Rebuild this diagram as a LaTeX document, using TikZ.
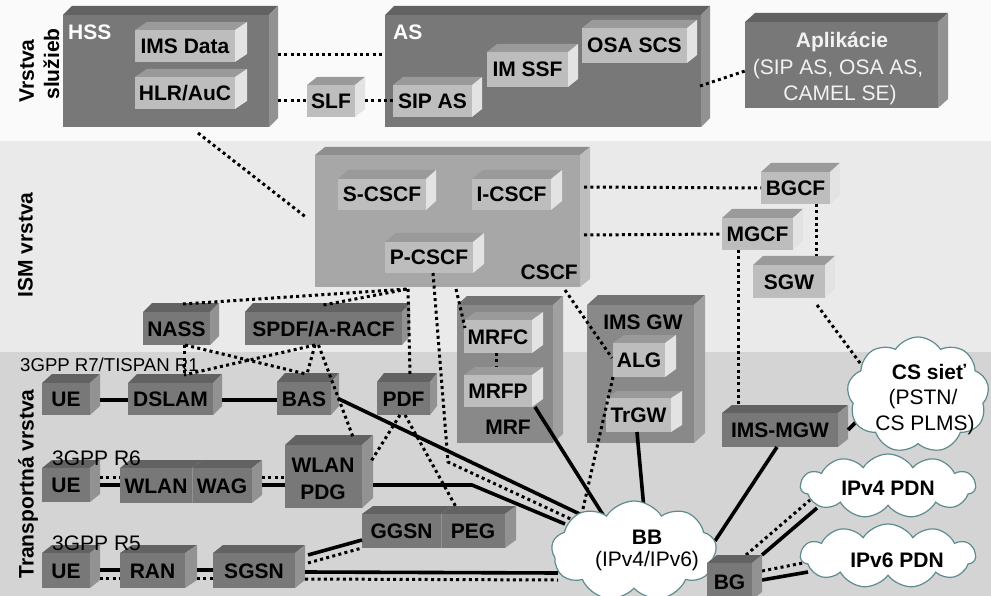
\documentclass[tikz,border=0pt]{standalone}
\usepackage{fontspec}
\setmainfont{Liberation Sans}
\usetikzlibrary{shapes.symbols}
\definecolor{bandtop}{HTML}{FAFAFA}
\definecolor{bandism}{HTML}{EAEAEA}
\definecolor{bandtr}{HTML}{D4D4D4}
\definecolor{dktop}{HTML}{626262}
\definecolor{dkfront}{HTML}{787878}
\definecolor{dkside}{HTML}{929292}
\definecolor{lttop}{HTML}{9A9A9A}
\definecolor{ltfront}{HTML}{BDBDBD}
\definecolor{ltside}{HTML}{E3E3E3}
\definecolor{mdtop}{HTML}{8E8E8E}
\definecolor{mdfront}{HTML}{A7A7A7}
\definecolor{mdside}{HTML}{BDBDBD}
\definecolor{mrtop}{HTML}{737373}
\definecolor{mrfront}{HTML}{898989}
\definecolor{mrside}{HTML}{A0A0A0}
\definecolor{cloudedge}{HTML}{5E8B8E}
\definecolor{wtext}{HTML}{F2F2F2}
\pgfdeclarelayer{bg}
\pgfdeclarelayer{fg}
\pgfsetlayers{bg,main,fg}
\newcommand\drawcube[9]{%
  \fill[#6top] (#2,#3) -- ({#2+#7},{#3-#8}) -- ({#4+#7},{#3-#8}) -- (#4,#3) -- cycle;
  \fill[#6side] (#4,#3) -- ({#4+#7},{#3-#8}) -- ({#4+#7},{#5-#8}) -- (#4,#5) -- cycle;
  \node[inner sep=0pt, outer sep=0pt, fill=#6front, lab,
        minimum width={(#4-#2)*1pt}, minimum height={(#5-#3)*1pt}] (#1)
        at ({(#2+#4)/2},{(#3+#5)/2}) {#9};
}
\begin{document}
\begin{tikzpicture}[x=1pt,y=-1pt,
  lab/.style={font=\fontsize{21}{24}\selectfont\bfseries, text=black, text height=15pt, text depth=0pt},
  txt/.style={font=\fontsize{21}{24}\selectfont, text=black, text height=15pt, text depth=0pt, inner sep=0pt},
  blab/.style={lab, inner sep=0pt},
  dots/.style={line width=3pt, dash pattern=on 3pt off 3.3pt},
  conn/.style={line width=3.6pt},
  cloudsty/.style={cloud, cloud puffs=#1, cloud puff arc=115, cloud ignores aspect, draw=cloudedge, line width=1.2pt, fill=white, inner sep=0pt}]
\path[use as bounding box] (0,0) rectangle (991,596);
\clip (0,0) rectangle (991,596);
\begin{pgfonlayer}{bg}
\fill[bandtop] (0,0) rectangle (991,141);
\fill[bandism] (0,141) rectangle (991,352);
\fill[bandtr] (0,352) rectangle (991,596);
\end{pgfonlayer}
% layer labels
\node[blab, rotate=90] (l1a) at (26.5,71) {Vrstva};
\node[blab, rotate=90] (l1b) at (51.5,64) {služieb};
\node[blab, rotate=90] (l2) at (25,245) {ISM vrstva};
\node[blab, rotate=90] (l3) at (26,484) {Transportná vrstva};
% service layer
\drawcube{hss}{63}{15}{269}{127}{dk}{9}{9}{}
\drawcube{as}{385}{15}{701}{127}{dk}{9}{9}{}
\drawcube{apl}{745}{22}{938}{108}{dk}{10}{9}{}
\node[blab, text=white, anchor=west] (hsst) at (68,32) {HSS};
\node[blab, text=white, anchor=west] (ast) at (393,32) {AS};
\node[blab, text=wtext] (aplt1) at (842,40) {Aplikácie};
\node[txt, text=wtext] (aplt2) at (838,67) {(SIP AS, OSA AS,};
\node[txt, text=wtext] (aplt3) at (840,93) {CAMEL SE)};
\drawcube{imsdata}{135}{30}{235}{62}{lt}{12}{8}{IMS Data}
\drawcube{hlr}{135}{77}{235}{109}{lt}{12}{8}{HLR/AuC}
\drawcube{slf}{307}{85}{355}{117}{lt}{10}{8}{SLF}
\drawcube{sipas}{393}{85}{472}{117}{lt}{10}{8}{SIP AS}
\drawcube{imssf}{487}{52}{568}{87}{lt}{10}{8}{IM SSF}
\drawcube{osascs}{582}{28}{687}{63}{lt}{10}{8}{OSA SCS}
% IMS layer
\drawcube{cscf}{315}{155}{580}{287}{md}{10}{8}{}
\node[blab, anchor=east] (cscft) at (578,272) {CSCF};
\drawcube{scscf}{338}{179}{426}{210}{lt}{10}{9}{S-CSCF}
\drawcube{icscf}{472}{179}{551}{210}{lt}{11}{9}{I-CSCF}
\drawcube{pcscf}{385}{242}{473}{273}{lt}{11}{9}{P-CSCF}
\drawcube{bgcf}{761}{172}{830}{204}{lt}{10}{9}{BGCF}
\drawcube{mgcf}{722}{218}{793}{250}{lt}{10}{9}{MGCF}
\drawcube{sgw}{753}{265}{825}{298}{lt}{10}{9}{SGW}
\drawcube{nass}{143}{312}{210}{345}{dk}{9}{9}{NASS}
\drawcube{spdf}{245}{312}{402}{345}{dk}{8}{9}{SPDF/A-RACF}
\drawcube{mrf}{457}{305}{553}{443}{mr}{10}{9}{}
\node[blab] (mrft) at (508,427) {MRF};
\drawcube{mrfc}{464}{320}{532}{353}{lt}{11}{8}{MRFC}
\drawcube{mrfp}{464}{375}{532}{407}{lt}{11}{8}{MRFP}
\drawcube{imsgw}{587}{305}{694}{443}{mr}{11}{10}{}
\node[blab] (imsgwt) at (643,322) {IMS GW};
\drawcube{alg}{613}{343}{665}{377}{lt}{11}{8}{ALG}
\drawcube{trgw}{606}{398}{671}{432}{lt}{11}{7}{TrGW}
% transport layer
\drawcube{ue1}{42}{383}{90}{415}{dk}{10}{9}{UE}
\drawcube{dslam}{128}{383}{213}{415}{dk}{9}{9}{DSLAM}
\drawcube{bas}{277}{382}{331}{415}{dk}{8}{9}{BAS}
\drawcube{pdf}{377}{382}{430}{415}{dk}{7}{9}{PDF}
\drawcube{ue2}{42}{468}{90}{502}{dk}{10}{8}{UE}
\drawcube{wlan}{120}{468}{192}{503}{dk}{10}{8}{WLAN}
\drawcube{wag}{192}{468}{252}{503}{dk}{10}{8}{WAG}
\draw[line width=0.8pt, color=dkside] (wlan.north east) -- (wlan.south east);
\drawcube{wlanpdg}{285}{445}{362}{508}{dk}{11}{10}{}
\node[blab] (wlanpdgt1) at (323,465) {WLAN};
\node[blab] (wlanpdgt2) at (323,492) {PDG};
\drawcube{ue3}{42}{553}{90}{588}{dk}{10}{8}{UE}
\drawcube{ran}{120}{553}{185}{588}{dk}{12}{8}{RAN}
\drawcube{sgsn}{213}{553}{295}{588}{dk}{10}{8}{SGSN}
\drawcube{ggsn}{362}{514}{441}{548}{dk}{11}{8}{GGSN}
\drawcube{peg}{441}{514}{505}{548}{dk}{11}{8}{PEG}
\draw[line width=0.8pt, color=dkside] (ggsn.north east) -- (ggsn.south east);
\drawcube{imsmgw}{722}{413}{838}{447}{dk}{10}{8}{IMS-MGW}
\node[txt, font=\fontsize{18.6}{22}\selectfont, anchor=base west, text height=, text depth=] (r7) at (20,371) {3GPP R7/TISPAN R1};
\node[txt, anchor=base west, text height=, text depth=] (r6) at (52,465) {3GPP R6};
\node[txt, anchor=base west, text height=, text depth=] (r5) at (52,550) {3GPP R5};
% clouds and BG (front layer)
\begin{pgfonlayer}{fg}
\node[cloudsty=9, minimum width=165pt, minimum height=100pt] (bb) at (634,551) {};
\node[cloudsty=9, minimum width=142pt, minimum height=116pt] (cs) at (918,395) {};
\node[cloudsty=11, minimum width=175pt, minimum height=64pt] (ipv4) at (888,486) {};
\node[cloudsty=11, minimum width=175pt, minimum height=64pt] (ipv6) at (888,556) {};
\node[blab] (bbt1) at (647,537) {BB};
\node[txt] (bbt2) at (647,559) {(IPv4/IPv6)};
\node[blab] (cst1) at (929,372) {CS sieť};
\node[txt] (cst2) at (923,397) {(PSTN/};
\node[txt] (cst3) at (925,423) {CS PLMS)};
\node[blab] (ipv4t) at (888,488) {IPv4 PDN};
\node[blab] (ipv6t) at (897,560) {IPv6 PDN};
\drawcube{bg}{707}{563}{752}{600}{dk}{10}{8}{BG}
\end{pgfonlayer}
\coordinate (bend1) at (448,462);
\coordinate (bend2) at (472,485);
% service connectors
\draw[dots] ([shift={(9,-16)}]hss.east) -- ([shift={(0,-16)}]as.west);
\draw[dots] ([shift={(9,30)}]hss.east) -- (slf.west);
\draw[dots] ([xshift=10pt]slf.east) -- (sipas.west);
\draw[dots] ([shift={(-1,15)}]as.east) -- ([shift={(0,6)}]apl.west);
\draw[dots] ([shift={(32,6)}]hss.south) -- ([shift={(-8,-3)}]cscf.west);
% IMS connectors
\draw[dots] ([shift={(4,-34)}]cscf.east) -- (bgcf.west);
\draw[dots] ([shift={(4,14)}]cscf.east) -- (mgcf.west);
\draw[dots] ([shift={(20.5,0)}]bgcf.south) -- ([shift={(27,-9)}]sgw.north);
\draw[dots] ([shift={(-19.5,0)}]mgcf.south) -- ([shift={(-42,-8)}]imsmgw.north);
\draw[dots] ([shift={(28,7)}]sgw.south) -- ([shift={(-55,-28)}]cs.center);
\draw[dots] ([shift={(6.5,-8)}]nass.north) -- ([shift={(-39.5,2)}]cscf.south);
\draw[dots] ([shift={(0,-7)}]spdf.north) -- ([shift={(-39.5,2)}]cscf.south);
\draw[dots] ([shift={(-39.5,2)}]cscf.south) -- ([shift={(6.5,-8)}]pdf.north);
\draw[dots] ([shift={(4,0)}]pcscf.south) -- (bend1) -- ([shift={(-59,-30)}]bb.center);
\draw[dots] ([shift={(8.5,2)}]cscf.south) -- ([shift={(1,-8.5)}]mrfc.west);
\draw[dots] ([shift={(117.5,3)}]cscf.south) -- ([shift={(-1,-2)}]alg.west);
\draw[dots] (alg.south west) -- ([shift={(-52,-38)}]bb.center);
\draw[dots] ([shift={(-2,0)}]mrfc.south) -- ([shift={(-2,-8)}]mrfp.north);
\draw[conn] ([shift={(3,0)}]mrfp.south east) -- ([shift={(-29,-33)}]bb.center);
\draw[conn] ([shift={(-1.5,0)}]trgw.south) -- ([shift={(10,-42)}]bb.center);
% transport connectors
\draw[conn] ([shift={(7,0)}]bas.east) -- ([shift={(-46,-33)}]bb.center);
\draw[conn] ([shift={(11,8.5)}]wlanpdg.east) -- (bend2) -- ([shift={(-69,-27)}]bb.center);
\draw[conn] ([shift={(10,1.5)}]sgsn.east) -- ([shift={(-76,22)}]bb.center);
\draw[dots] ([shift={(10,8.5)}]sgsn.east) -- ([shift={(-76,29)}]bb.center);
\draw[conn] ([shift={(13,-15.5)}]sgsn.east) -- ([shift={(0,9)}]ggsn.west);
\draw[dots] ([shift={(13,-7.5)}]sgsn.east) -- (ggsn.south west);
\draw[conn] ([shift={(10,1)}]ue1.east) -- ([shift={(0,1)}]dslam.west);
\draw[conn] ([shift={(9,1)}]dslam.east) -- ([shift={(0,1.5)}]bas.west);
\draw[conn] ([shift={(10,0)}]ue2.east) -- ([shift={(0,-0.5)}]wlan.west);
\draw[dots] ([shift={(10,-8)}]ue2.east) -- ([shift={(0,-8.5)}]wlan.west);
\draw[conn] ([shift={(10,-0.5)}]wag.east) -- ([shift={(0,8.5)}]wlanpdg.west);
\draw[dots] ([shift={(10,-8.5)}]wag.east) -- ([shift={(0,0.5)}]wlanpdg.west);
\draw[conn] ([shift={(10,-0.5)}]ue3.east) -- ([shift={(0,-0.5)}]ran.west);
\draw[dots] ([shift={(10,7.5)}]ue3.east) -- ([shift={(0,7.5)}]ran.west);
\draw[conn] ([shift={(12,-0.5)}]ran.east) -- ([shift={(0,-0.5)}]sgsn.west);
\draw[dots] ([shift={(12,7.5)}]ran.east) -- ([shift={(0,7.5)}]sgsn.west);
\draw[dots] ([shift={(7.5,0)}]nass.south) -- ([shift={(13.5,-8)}]dslam.north);
\draw[dots] ([shift={(8.5,0)}]nass.south) -- ([shift={(2,-8)}]bas.north);
\draw[dots] ([shift={(-8.5,0)}]spdf.south) -- ([shift={(13.5,-8)}]dslam.north);
\draw[dots] ([shift={(-8.5,0)}]spdf.south) -- ([shift={(3,-8)}]bas.north);
\draw[dots] ([shift={(-5,0)}]spdf.south) -- ([shift={(29.5,-8)}]wlanpdg.north);
\draw[dots] ([shift={(-3.5,0)}]pdf.south) -- ([shift={(8,-13.5)}]wlanpdg.east);
\draw[dots] ([shift={(1.5,0)}]pdf.south) -- ([shift={(-17,-7)}]peg.north);
\draw[conn] ([shift={(-3,0)}]imsmgw.south) -- ([shift={(81,-10)}]bb.center);
\draw[conn] ([shift={(10,0)}]imsmgw.east) -- ([shift={(-55,20)}]cs.center);
\draw[conn] ([shift={(10,-8)}]bg.north east) -- ([shift={(-71,22)}]ipv4.center);
\draw[dots] ([shift={(16.5,-8)}]bg.north) -- ([shift={(-78,14)}]ipv4.center);
\draw[dots] ([shift={(10,-10.5)}]bg.east) -- ([shift={(-85,7)}]ipv6.center);
\draw[conn] ([shift={(10,-1.5)}]bg.east) -- ([shift={(-80,16)}]ipv6.center);
\end{tikzpicture}
\end{document}
